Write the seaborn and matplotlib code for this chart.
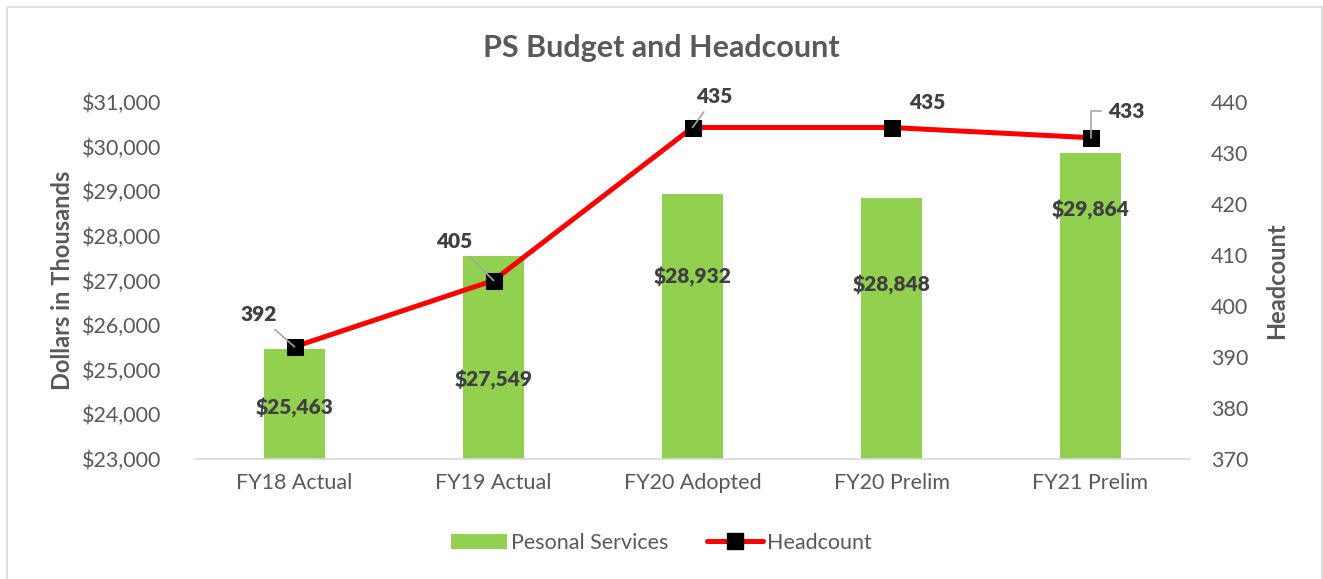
import matplotlib
matplotlib.use("Agg")
import matplotlib.pyplot as plt
import seaborn as sns
import pandas as pd
from matplotlib.patches import Patch, Rectangle
from matplotlib.lines import Line2D
from matplotlib.ticker import FuncFormatter

categories = ["FY18 Actual", "FY19 Actual", "FY20 Adopted", "FY20 Prelim", "FY21 Prelim"]
ps_budget = [25463, 27549, 28932, 28848, 29864]
headcount = [392, 405, 435, 435, 433]
left_ticks = [23000, 24000, 25000, 26000, 27000, 28000, 29000, 30000, 31000]
right_ticks = [370, 380, 390, 400, 410, 420, 430, 440]
# label anchor positions (data units of left axis for bar labels)
bar_label_y = [24143, 24771, 27081, 26901, 28583]

sns.set_theme(style="white")
plt.rcParams['font.family'] = ['Lato', 'DejaVu Sans']

TXT = "#595959"
LBL = "#404040"
GREEN = "#92D050"
RED = "#FF0000"

df = pd.DataFrame({"cat": categories, "ps": ps_budget, "hc": headcount})

fig = plt.figure(figsize=(13.23, 5.79), dpi=100)
ax = fig.add_axes([195/1323, 1-459/579, (1190-195)/1323, (459-102)/579])

sns.barplot(data=df, x="cat", y="ps", color=GREEN, width=0.31, ax=ax,
            saturation=1, edgecolor="none")
ax.set_ylim(23000, 31000)
ax.set_xlim(-0.5, 4.5)
ax.set_yticks(left_ticks)
ax.yaxis.set_major_formatter(FuncFormatter(lambda v, p: f"${v:,.0f}"))
ax.set_xlabel("")
ax.set_ylabel("Dollars in Thousands", fontsize=17, fontweight="bold", color=TXT, labelpad=6)
ax.tick_params(axis="y", labelsize=15.5, colors=TXT, length=0, pad=24)
ax.tick_params(axis="x", labelsize=15.5, colors=TXT, length=0, pad=10)
for s in ["top", "right", "left"]:
    ax.spines[s].set_visible(False)
ax.spines["bottom"].set_color("#D9D9D9")
ax.spines["bottom"].set_linewidth(1.2)

for i, (v, ly) in enumerate(zip(ps_budget, bar_label_y)):
    ax.text(i, ly, f"${v:,}", ha="center", va="center", fontsize=15,
            fontweight="heavy", color=LBL)

ax2 = ax.twinx()
sns.lineplot(data=df, x="cat", y="hc", ax=ax2, color=RED, linewidth=3.6,
             marker="s", markersize=11.5, markerfacecolor="black",
             markeredgecolor="black", sort=False)
ax2.set_ylim(370, 440)
ax2.set_xlim(-0.5, 4.5)
ax2.set_yticks(right_ticks)
ax2.set_ylabel("Headcount", fontsize=17, fontweight="bold", color=TXT, labelpad=12)
ax2.tick_params(axis="y", labelsize=15.5, colors=TXT, length=0, pad=15)
for s in ["top", "right", "left", "bottom"]:
    ax2.spines[s].set_visible(False)

# headcount labels (offsets in points)
offsets = [(-26, 23), (-28, 28), (16, 22), (26, 18), (13, 19)]
leader = [True, True, True, False, True]
for i, (v, off, ld) in enumerate(zip(headcount, offsets, leader)):
    if ld and i == 4:
        ax2.annotate(str(v), xy=(i, v), xytext=off, textcoords="offset points",
                     ha="left", va="center", fontsize=15, fontweight="heavy", color=LBL,
                     arrowprops=dict(arrowstyle="-", color="#A6A6A6", lw=1.2,
                                     shrinkA=3, shrinkB=0,
                                     connectionstyle="angle,angleA=0,angleB=90,rad=0"))
    elif ld:
        ax2.annotate(str(v), xy=(i, v), xytext=off, textcoords="offset points",
                     ha="center", va="center", fontsize=15, fontweight="heavy", color=LBL,
                     arrowprops=dict(arrowstyle="-", color="#A6A6A6", lw=1.2,
                                     shrinkA=2, shrinkB=0))
    else:
        ax2.annotate(str(v), xy=(i, v), xytext=off, textcoords="offset points",
                     ha="center", va="center", fontsize=15, fontweight="heavy", color=LBL)

fig.text(0.5, 1-48/579, "PS Budget and Headcount", ha="center", va="center",
         fontsize=22, fontweight="bold", color=TXT)

handles = [Patch(facecolor=GREEN, edgecolor="none"),
           Line2D([0], [0], color=RED, linewidth=3.6, marker="s", markersize=11,
                  markerfacecolor="black", markeredgecolor="black")]
fig.legend(handles, ["Pesonal Services", "Headcount"], loc="center",
           bbox_to_anchor=(0.5, 1-543/579), ncol=2, frameon=False, fontsize=15.5,
           labelcolor=TXT, handlelength=2.6, columnspacing=1.8, handletextpad=0.2)

fig.add_artist(Rectangle((7/1323, -0.05), (1322-7)/1323, 1.05 - 7/579,
                         transform=fig.transFigure, fill=False,
                         edgecolor="#D9D9D9", linewidth=1.2))

fig.savefig("out.png", dpi=100)
